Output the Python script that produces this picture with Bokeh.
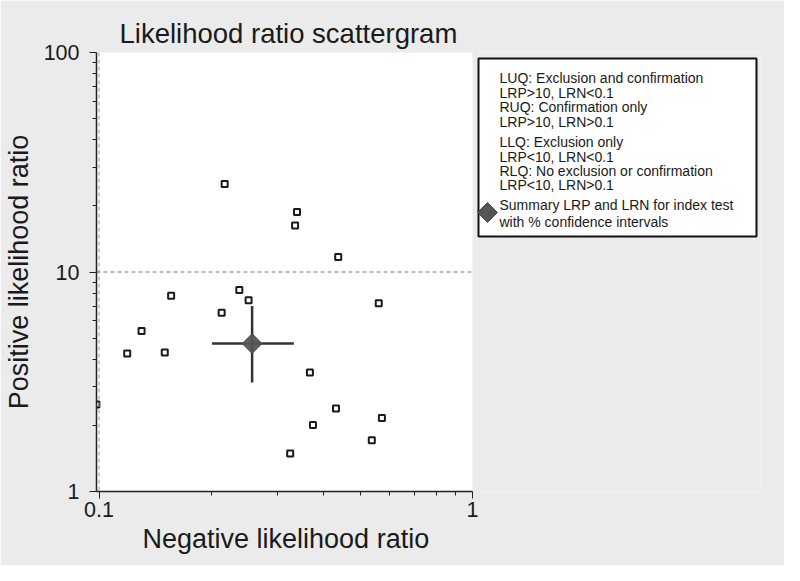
import math
from bokeh.plotting import figure
from bokeh.models import (Label, BoxAnnotation, Span, FixedTicker, NumeralTickFormatter, Title)
from bokeh.embed import file_html
from bokeh.resources import INLINE

# ---- data ----
lrn = [0.217, 0.339, 0.335, 0.437, 0.561, 0.156, 0.2375, 0.2515, 0.213, 0.130,
       0.119, 0.150, 0.0984, 0.367, 0.431, 0.374, 0.572, 0.5375, 0.325]
lrp = [25.2, 18.75, 16.3, 11.7, 7.2, 7.8, 8.28, 7.44, 6.52, 5.39,
       4.25, 4.30, 2.49, 3.48, 2.39, 2.01, 2.16, 1.71, 1.49]

summary_lrn = [0.257]
summary_lrn_lo = [0.2006]
summary_lrn_hi = [0.3325]
summary_lrp = [4.72]
summary_lrp_lo = [3.14]
summary_lrp_hi = [7.0]

lrp_threshold = 10
lrn_threshold = 0.1
lrn_axis_max = 1.0

x_ticks = [0.1, 1]
x_minor = [0.2, 0.3, 0.4, 0.5, 0.6, 0.7, 0.8, 0.9]
y_ticks = [1, 10, 100]
y_minor = [2, 3, 4, 5, 6, 7, 8, 9, 20, 30, 40, 50, 60, 70, 80, 90]

legend_lines = [
    "LUQ: Exclusion and confirmation",
    "LRP>10, LRN<0.1",
    "RUQ: Confirmation only",
    "LRP>10, LRN>0.1",
    "LLQ: Exclusion only",
    "LRP<10, LRN<0.1",
    "RLQ: No exclusion or confirmation",
    "LRP<10, LRN>0.1",
    "Summary LRP and LRN for index test",
    "with % confidence intervals",
]

# ---- layout (canvas pixels) ----
FONT = "Liberation Sans"
BG = "#ebebeb"
W, H = 784, 565
F_LEFT, F_RIGHT, F_TOP, F_BOTTOM = 96, 760, 52, 491
PX_X01, PX_X1 = 98.5, 472.0      # where 0.1 and 1 fall on the x axis
FW, FH = F_RIGHT - F_LEFT, F_BOTTOM - F_TOP

dec = PX_X1 - PX_X01
x_start = 0.1 * 10 ** (-(PX_X01 - F_LEFT) / dec)
x_end = 10 ** ((F_RIGHT - PX_X1) / dec)
y_start, y_end = 1, 100


def xd(px):
    return x_start * 10 ** ((px - F_LEFT) / dec)


def yd(py):
    return 10 ** (math.log10(y_start) + (F_BOTTOM - py) / FH * math.log10(y_end / y_start))


p = figure(width=W, height=H, x_axis_type="log", y_axis_type="log",
           x_range=(x_start, x_end), y_range=(y_start, y_end),
           output_backend="svg", toolbar_location=None,
           min_border_left=F_LEFT, min_border_right=W - F_RIGHT,
           min_border_top=F_TOP, min_border_bottom=H - F_BOTTOM,
           title="Likelihood ratio scattergram")
p.background_fill_color = BG
p.border_fill_color = BG
p.outline_line_color = None
p.grid.visible = False

# white plotting region (up to LRN = 1)
p.add_layout(BoxAnnotation(right=lrn_axis_max, fill_color="white", fill_alpha=1,
                           line_color=None, level="underlay"))

p.title.align = "left"
p.title.offset = 23
p.title.text_font = FONT
p.title.text_font_size = "27.5px"
p.title.text_font_style = "normal"
p.title.text_color = "#1a1a1a"
p.title.standoff = 7

for ax in (p.xaxis[0], p.yaxis[0]):
    ax.axis_line_color = "#222222"
    ax.axis_line_width = 1.5
    ax.major_tick_line_color = "#222222"
    ax.minor_tick_line_color = "#222222"
    ax.major_tick_out = 7
    ax.major_tick_in = 0
    ax.minor_tick_out = 4
    ax.minor_tick_in = 0
    ax.major_label_text_font = FONT
    ax.major_label_text_font_size = "21.5px"
    ax.major_label_text_color = "#1a1a1a"
    ax.axis_label_text_font = FONT
    ax.axis_label_text_font_size = "27px"
    ax.axis_label_text_font_style = "normal"
    ax.axis_label_text_color = "#1a1a1a"
    ax.formatter = NumeralTickFormatter(format="0.[0]")

p.xaxis[0].ticker = FixedTicker(ticks=x_ticks, minor_ticks=x_minor)
p.yaxis[0].ticker = FixedTicker(ticks=y_ticks, minor_ticks=y_minor)
p.xaxis[0].bounds = (x_start, lrn_axis_max)
p.yaxis[0].axis_label = "Positive likelihood ratio"
p.xaxis[0].major_label_standoff = 3
p.yaxis[0].major_label_standoff = 10
p.yaxis[0].axis_label_standoff = 7

# x-axis title, centred under the plotting region (which ends at LRN = 1)
p.add_layout(Title(text="Negative likelihood ratio", align="left", offset=46,
                   text_font=FONT, text_font_size="27px", text_font_style="normal",
                   text_color="#1a1a1a", standoff=5), "below")

# threshold reference lines
p.segment(x0=[x_start], y0=[lrp_threshold], x1=[lrn_axis_max], y1=[lrp_threshold],
          line_color="#777777", line_width=1, line_dash="4 3")
p.add_layout(Span(location=lrn_threshold, dimension="height", line_color="#999999",
                  line_width=1, line_dash="4 3"))

# study points
p.scatter(lrn, lrp, marker="square", size=6, line_width=2,
          line_color="#1a1a1a", fill_color="white")

# summary with confidence intervals
p.segment(x0=summary_lrn_lo, y0=summary_lrp, x1=summary_lrn_hi, y1=summary_lrp,
          line_color="#333333", line_width=2.5)
p.segment(x0=summary_lrn, y0=summary_lrp_lo, x1=summary_lrn, y1=summary_lrp_hi,
          line_color="#333333", line_width=2.5)
p.scatter(summary_lrn, summary_lrp, marker="square", angle=math.pi / 4, size=14,
          fill_color="#555555", line_color="#444444", line_width=1, fill_alpha=0.95)

# legend box
p.add_layout(BoxAnnotation(left=xd(478), right=xd(756), top=yd(58), bottom=yd(236),
                           fill_color="white", fill_alpha=1,
                           line_color="#111111", line_alpha=1, line_width=2,
                           level="annotation"))
line_y = [77, 92, 106, 121, 141, 156, 170, 184.5, 204.5, 221]
for txt, yy in zip(legend_lines, line_y):
    p.add_layout(Label(x=xd(499), y=yd(yy), text=txt, text_font=FONT,
                       text_font_size="14px", text_color="#1a1a1a",
                       text_baseline="middle", text_align="left", level="overlay"))
p.scatter([xd(487)], [yd(212)], marker="square", angle=math.pi / 4, size=14,
          fill_color="#555555", line_color="#444444", line_width=1, level="overlay")

open("out.html", "w").write(file_html(p, INLINE))
